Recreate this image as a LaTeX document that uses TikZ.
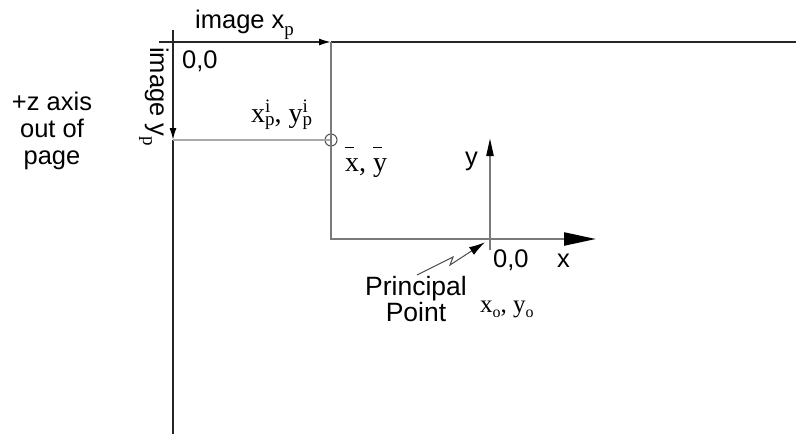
\documentclass[tikz,border=0pt]{standalone}
\usepackage{fontspec}
\setmainfont{Liberation Sans}
\newfontfamily\symfont{Liberation Serif}
\usetikzlibrary{positioning,arrows.meta}
\definecolor{frameln}{HTML}{262626}
\definecolor{innerln}{HTML}{7A7A7A}
\definecolor{guideln}{HTML}{A8A8A8}
\definecolor{zapln}{HTML}{4A4A4A}
\tikzset{
  lbl/.style   ={inner sep=0pt, font=\fontsize{25.5}{27}\selectfont},
  sym/.style   ={inner sep=0pt, font=\fontsize{28}{30}\selectfont\symfont},
  frame/.style ={draw=frameln, line width=1.6pt},
  inner/.style ={draw=innerln, line width=2.2pt},
  guide/.style ={draw=guideln, line width=2pt},
  ring/.style  ={circle, draw=frameln!80, line width=1pt, minimum size=12pt, inner sep=0pt},
  % small black tips on the image axes, big one on the photo x axis
  tipS/.style  ={-{Latex[length=12pt,width=7pt,color=black]}},
  tipB/.style  ={-{Triangle[length=32pt,width=13pt,color=black]}},
  tipY/.style  ={-{Triangle[length=18pt,width=7pt,color=black]}},
  zap/.style   ={draw=zapln, line width=1pt, shorten >=6pt,
                 -{Latex[length=16pt,width=9pt,color=black]}},
}
\newcommand{\subfnt}{\fontsize{19}{19}\selectfont\symfont}
\newcommand{\ipair}[1]{#1\rlap{\raisebox{10pt}{\subfnt i}}\raisebox{-3pt}{\subfnt p}}
\newcommand{\osub}[1]{#1\raisebox{-5pt}{\fontsize{16}{16}\selectfont o}}
\newcommand{\barred}[1]{\rlap{\raisebox{23pt}{\rule{9pt}{1.4pt}}}#1}
\newcommand{\psub}{\raisebox{-7pt}{\subfnt p}}

\begin{document}
\begin{tikzpicture}[x=1pt,y=-1pt]
\useasboundingbox (0,0) rectangle (796,434);
% --- image frame ---
\coordinate (fxL) at (159,42);
\coordinate (fxR) at (796,42);
\coordinate (fyT) at (173,30);
\coordinate (fyB) at (173,434);
\coordinate (xpT) at (331,42);
\coordinate (xpB) at (331,239);
\coordinate (ypL) at (173,140);
\node[ring] (pt) at (331,140) {};
% --- photo system at the principal point ---
\coordinate (po) at (490,239);
\coordinate (poT) at (490,138);
\coordinate (poB) at (490,250);
\coordinate (xaxR) at (596,239);
\coordinate (zapA) at (453,257);
\coordinate (zapB) at (450,265);

\draw[frame,tipS] (fxL) -- (xpT);
\draw[frame] (xpT) -- (fxR);
\draw[frame,tipS] (fyT) -- (ypL);
\draw[frame] (ypL) -- (fyB);
\draw[guide] (ypL) -- (pt.center);
\draw[inner] (xpT) -- (xpB) -- (po);
\draw[inner,tipB] (po) -- (xaxR);
\draw[inner,tipY] (poB) -- (poT);

% --- labels ---
\node[lbl,anchor=base west] (ximg) at (195,28) {image x\psub};
\node[lbl,anchor=base west] (org) at (182,68) {0,0};
\node[lbl,anchor=base west,rotate=-90] (yimg) at (150,47) {image y\psub};
\node[lbl,align=center] (zax) at (52,131) {+z axis\\out of\\page};
\node[sym,anchor=base west] (xpi) at (251,122) {\ipair{x}, \ipair{y}};
\node[sym,anchor=base west] (xbar) at (345,171) {\barred{x}, \barred{y}};
\node[lbl,anchor=base west] (ylab) at (465,165) {y};
\node[lbl,anchor=base west] (orgp) at (493,267) {0,0};
\node[lbl,anchor=base west] (xlab) at (557,267) {x};
\node[lbl,align=center,font=\fontsize{26.5}{22}\selectfont] (ppnt) at (416,299) {Principal\\Point};
\node[sym,anchor=base west,font=\fontsize{25}{26}\selectfont\symfont] (xo) at (480,312) {\osub{x}, \osub{y}};
\coordinate (zapF) at (417,275);
\draw[zap] (zapF) -- (zapA) -- (zapB) -- (po);
\end{tikzpicture}
\end{document}
